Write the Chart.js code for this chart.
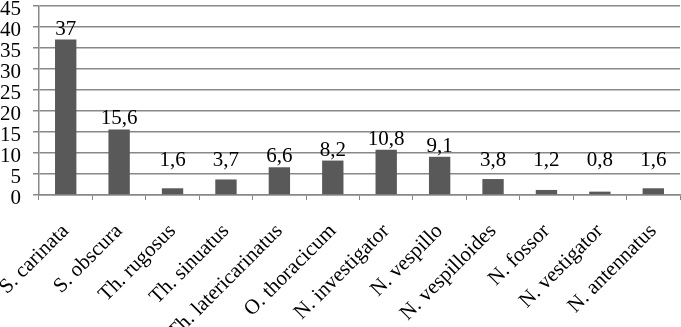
<!DOCTYPE html>
<html>
<head>
<meta charset="utf-8">
<script src="https://cdn.jsdelivr.net/npm/chart.js@4/dist/chart.umd.min.js"></script>
<style>
  html, body { margin: 0; padding: 0; background: #fff; }
  #wrap { width: 681px; height: 327px; overflow: hidden; position: relative; }
  #chart { position: absolute; left: 0; top: 0; }
</style>
</head>
<body>
<div id="wrap"><canvas id="chart" width="681" height="327"></canvas></div>
<script>
const species = ['S. carinata', 'S. obscura', 'Th. rugosus', 'Th. sinuatus', 'Th. latericarinatus',
  'O. thoracicum', 'N. investigator', 'N. vespillo', 'N. vespilloides', 'N. fossor',
  'N. vestigator', 'N. antennatus'];
const values = [37, 15.6, 1.6, 3.7, 6.6, 8.2, 10.8, 9.1, 3.8, 1.2, 0.8, 1.6];
const yTicks = [0, 5, 10, 15, 20, 25, 30, 35, 40, 45];

const serif = 'Liberation Serif, Times New Roman, serif';

// value labels above the bars, with a floor like the original
const barLabels = {
  id: 'barLabels',
  afterDatasetsDraw(chart) {
    const ctx = chart.ctx;
    const floor = chart.scales.y.getPixelForValue(7);
    ctx.save();
    ctx.font = '21px ' + serif;
    ctx.fillStyle = '#000';
    ctx.textAlign = 'center';
    ctx.textBaseline = 'alphabetic';
    chart.getDatasetMeta(0).data.forEach((bar, i) => {
      const base = Math.min(bar.y - 5, floor);
      ctx.fillText(String(values[i]).replace('.', ','), bar.x, base);
    });
    ctx.restore();
  }
};

// let labels run off the edges like in the original
function noPad(s) {
  s.paddingLeft = 0; s.paddingRight = 0; s.paddingTop = 0; s.paddingBottom = 0;
}

new Chart('chart', {
  type: 'bar',
  data: {
    labels: species,
    datasets: [{
      data: values,
      backgroundColor: '#595959',
      categoryPercentage: 1,
      barPercentage: 0.4
    }]
  },
  options: {
    responsive: false,
    animation: false,
    events: [],
    layout: { padding: { top: 6, right: 1, left: 0, bottom: 0 } },
    plugins: { legend: { display: false }, tooltip: { enabled: false } },
    scales: {
      x: {
        offset: true,
        grid: { display: true, drawOnChartArea: false, offset: true, tickLength: 5, color: '#888', lineWidth: 1 },
        border: { color: '#888', width: 1.5 },
        ticks: { color: '#000', font: { family: serif, size: 21 }, minRotation: 45, maxRotation: 45, padding: 19, autoSkip: false },
        afterFit(s) { s.height = 132; noPad(s); }
      },
      y: {
        min: 0, max: 45,
        afterBuildTicks(s) { s.ticks = yTicks.map(v => ({ value: v })); },
        grid: { color: '#888', lineWidth: 1.5, tickLength: 6 },
        border: { color: '#888', width: 1.5 },
        ticks: { color: '#000', font: { family: serif, size: 21 }, padding: 12, labelOffset: 3, autoSkip: false },
        afterFit(s) { s.width = 39; noPad(s); }
      }
    }
  },
  plugins: [barLabels]
});
</script>
</body>
</html>
